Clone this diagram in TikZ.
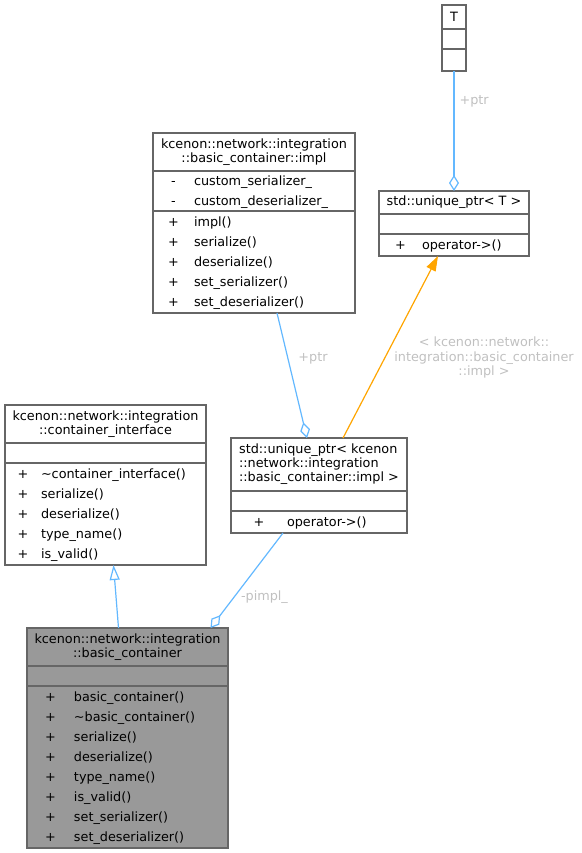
\documentclass[tikz,border=0pt]{standalone}
\usepackage{fontspec}
\setmainfont{DejaVu Sans}
\usepackage{array}
\usetikzlibrary{positioning,arrows.meta}

\definecolor{edgeblue}{HTML}{63B8FF}
\definecolor{edgeorange}{HTML}{FFA500}
\definecolor{lblgrey}{HTML}{C0C0C0}
\definecolor{boxgrey}{HTML}{666666}
\definecolor{mainfill}{HTML}{999999}

\tikzset{
  classbox/.style={draw=boxgrey, line width=1.3pt, inner sep=0pt, outer sep=0pt, fill=white},
  classname/.style={classbox, align=center, font=\fontsize{12.8}{14}\selectfont},
  classpart/.style={classbox, align=left, font=\fontsize{12.8}{20}\selectfont},
  aggr/.style={edgeblue, line width=1.2pt, -{Diamond[open,length=16pt,width=10pt]}},
  inherit/.style={edgeblue, line width=1.2pt, -{Triangle[open,length=15pt,width=10pt]}},
  templ/.style={edgeorange, line width=1.2pt, -{Triangle[length=15pt,width=10pt]}},
  edgelabel/.style={text=lblgrey, inner sep=0pt, align=center, font=\fontsize{12.8}{14.5}\selectfont},
}

\begin{document}
\begin{tikzpicture}[x=1pt, y=-1pt]
  \useasboundingbox (0,0) rectangle (581,853);

  % T
  \node[classname, minimum width=24pt, minimum height=24pt, anchor=north west] (T) at (442,5) {T};
  \node[classpart, text width=24pt, minimum height=20pt, below=0pt of T] (Tattr) {};
  \node[classpart, text width=24pt, minimum height=22pt, below=0pt of Tattr] (Tops) {};

  % std::unique_ptr< T >
  \node[classname, minimum width=150pt, minimum height=23pt, anchor=north west] (uptrT) at (379,191) {std::unique\_ptr< T >};
  \node[classpart, text width=150pt, minimum height=20pt, below=0pt of uptrT] (uptrTattr) {};
  \node[classpart, text width=150pt, minimum height=22pt, below=0pt of uptrTattr] (uptrTops)
    {\begin{tabular}{@{}wc{43pt}@{}l@{}}
      + & operator->()\\
    \end{tabular}};

  % basic_container::impl
  \node[classname, minimum width=202pt, minimum height=38pt, anchor=north west] (impl) at (153,133)
    {kcenon::network::integration\\::basic\_container::impl};
  \node[classpart, text width=202pt, minimum height=40pt, below=0pt of impl] (implattr)
    {\begin{tabular}{@{}wc{41pt}@{}l@{}}
      - & custom\_serializer\_\\
      - & custom\_deserializer\_\\
    \end{tabular}};
  \node[classpart, text width=202pt, minimum height=102pt, below=0pt of implattr] (implops)
    {\begin{tabular}{@{}wc{41pt}@{}l@{}}
      + & impl()\\
      + & serialize()\\
      + & deserialize()\\
      + & set\_serializer()\\
      + & set\_deserializer()\\
    \end{tabular}};

  % std::unique_ptr< impl >
  \node[classname, align=left, minimum width=176pt, minimum height=53pt, anchor=north west] (uptrimpl) at (231,438)
    {std::unique\_ptr< kcenon\\::network::integration\\::basic\_container::impl >};
  \node[classpart, text width=176pt, minimum height=20pt, below=0pt of uptrimpl] (uptrimplattr) {};
  \node[classpart, text width=176pt, minimum height=22pt, below=0pt of uptrimplattr] (uptrimplops)
    {\begin{tabular}{@{}wc{56pt}@{}l@{}}
      + & operator->()\\
    \end{tabular}};

  % container_interface
  \node[classname, minimum width=201pt, minimum height=38pt, anchor=north west] (iface) at (5,405)
    {kcenon::network::integration\\::container\_interface};
  \node[classpart, text width=201pt, minimum height=20pt, below=0pt of iface] (ifaceattr) {};
  \node[classpart, text width=201pt, minimum height=102pt, below=0pt of ifaceattr] (ifaceops)
    {\begin{tabular}{@{}wc{36pt}@{}l@{}}
      + & \textasciitilde container\_interface()\\
      + & serialize()\\
      + & deserialize()\\
      + & type\_name()\\
      + & is\_valid()\\
    \end{tabular}};

  % basic_container
  \node[classname, fill=mainfill, minimum width=201pt, minimum height=38pt, anchor=north west] (basic) at (27,628)
    {kcenon::network::integration\\::basic\_container};
  \node[classpart, fill=mainfill, text width=201pt, minimum height=20pt, below=0pt of basic] (basicattr) {};
  \node[classpart, fill=mainfill, text width=201pt, minimum height=162pt, below=0pt of basicattr] (basicops)
    {\begin{tabular}{@{}wc{47pt}@{}l@{}}
      + & basic\_container()\\
      + & \textasciitilde basic\_container()\\
      + & serialize()\\
      + & deserialize()\\
      + & type\_name()\\
      + & is\_valid()\\
      + & set\_serializer()\\
      + & set\_deserializer()\\
    \end{tabular}};

  % relations
  \draw[aggr] (Tops.south) -- node[edgelabel, pos=0.25, anchor=west, xshift=5pt] {+ptr} (uptrT.north);
  \draw[aggr] ([xshift=23pt]implops.south) -- node[edgelabel, pos=0.36, anchor=west, xshift=10pt] {+ptr} ([xshift=-12pt]uptrimpl.north);
  \draw[templ] ([xshift=24pt]uptrimpl.north) -- node[edgelabel, pos=0.44, anchor=west, xshift=9pt]
    {< kcenon::network::\\integration::basic\_container\\::impl >} ([xshift=-16pt]uptrTops.south);
  \draw[inherit] ([xshift=-9pt]basic.north) -- ([xshift=8pt]ifaceops.south);
  \draw[aggr] ([xshift=-36pt]uptrimplops.south) -- node[edgelabel, pos=0.67, anchor=west, xshift=6pt] {-pimpl\_} ([xshift=83pt]basic.north);
\end{tikzpicture}
\end{document}
